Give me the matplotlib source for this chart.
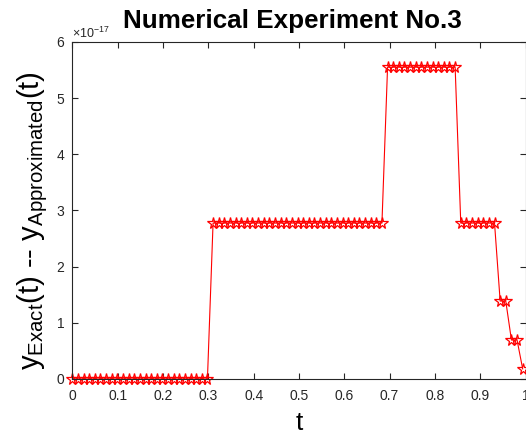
import matplotlib
matplotlib.use("Agg")
import matplotlib.pyplot as plt
from matplotlib.ticker import ScalarFormatter, MultipleLocator

plt.rcParams["font.family"] = ["Liberation Sans", "DejaVu Sans"]
plt.rcParams["mathtext.fontset"] = "custom"
plt.rcParams["mathtext.rm"] = "Liberation Sans"
plt.rcParams["mathtext.it"] = "Liberation Sans"

# time grid
t = [
    0.0000, 0.0124, 0.0248, 0.0373, 0.0497, 0.0621, 0.0745, 0.0869, 0.0994, 0.1118,
    0.1242, 0.1366, 0.1490, 0.1615, 0.1739, 0.1863, 0.1987, 0.2111, 0.2236, 0.2360,
    0.2484, 0.2608, 0.2732, 0.2857, 0.2981, 0.3105, 0.3229, 0.3353, 0.3478, 0.3602,
    0.3726, 0.3850, 0.3974, 0.4099, 0.4223, 0.4347, 0.4471, 0.4595, 0.4720, 0.4844,
    0.4968, 0.5092, 0.5216, 0.5341, 0.5465, 0.5589, 0.5713, 0.5837, 0.5962, 0.6086,
    0.6210, 0.6334, 0.6458, 0.6583, 0.6707, 0.6831, 0.6955, 0.7079, 0.7204, 0.7328,
    0.7452, 0.7576, 0.7700, 0.7825, 0.7949, 0.8073, 0.8197, 0.8321, 0.8446, 0.8570,
    0.8694, 0.8818, 0.8942, 0.9067, 0.9191, 0.9315, 0.9439, 0.9563, 0.9688, 0.9812,
    0.9936,
]

# absolute error levels (machine-epsilon multiples)
e0 = 0.0
e1 = 2.7756e-17
e2 = 5.5511e-17
e3 = 1.3878e-17
e4 = 0.6939e-17
e5 = 0.18e-17

err = (
    [e0] * 25
    + [e1] * 31
    + [e2] * 13
    + [e1] * 7
    + [e3] * 2
    + [e4] * 2
    + [e5] * 1
)

xtick_vals = [0, 0.1, 0.2, 0.3, 0.4, 0.5, 0.6, 0.7, 0.8, 0.9, 1.0]
xtick_labels = ["0", "0.1", "0.2", "0.3", "0.4", "0.5", "0.6", "0.7", "0.8", "0.9", "1"]

fig = plt.figure(figsize=(5.26, 4.32), dpi=100)
ax = fig.add_axes([0.1375, 0.1227, 0.8617, 0.7801])

ax.plot(t, err, color="red", linewidth=0.8, marker="*", markersize=8.5,
        markerfacecolor="none", markeredgecolor="red", markeredgewidth=0.9,
        clip_on=False)

ax.set_xlim(0, 1)
ax.set_ylim(0, 6e-17)
ax.yaxis.set_major_locator(MultipleLocator(1e-17))

fmt = ScalarFormatter(useMathText=True)
fmt.set_powerlimits((0, 0))
ax.yaxis.set_major_formatter(fmt)
ax.set_xticks(xtick_vals)
ax.set_xticklabels(xtick_labels)

axcol = "0.15"
for s in ax.spines.values():
    s.set_color(axcol)
    s.set_linewidth(0.8)
ax.tick_params(direction="in", top=True, right=True, length=4.5, width=0.8,
               colors=axcol, labelsize=10)
ax.tick_params(axis="x", pad=7)
ax.tick_params(axis="y", pad=5)
ax.yaxis.get_offset_text().set_fontsize(9)
ax.yaxis.get_offset_text().set_color(axcol)

ax.set_xlabel("t", fontsize=19, labelpad=6)
ax.set_ylabel(r"$\mathregular{y_{Exact}(t)}$ -- $\mathregular{y_{Approximated}(t)}$",
              fontsize=21)
ax.yaxis.set_label_coords(-0.05, 0.47)
ax.set_title("Numerical Experiment No.3", fontsize=18.7, fontweight="bold",
             pad=10, x=0.485)

fig.savefig("out.png", dpi=100)
